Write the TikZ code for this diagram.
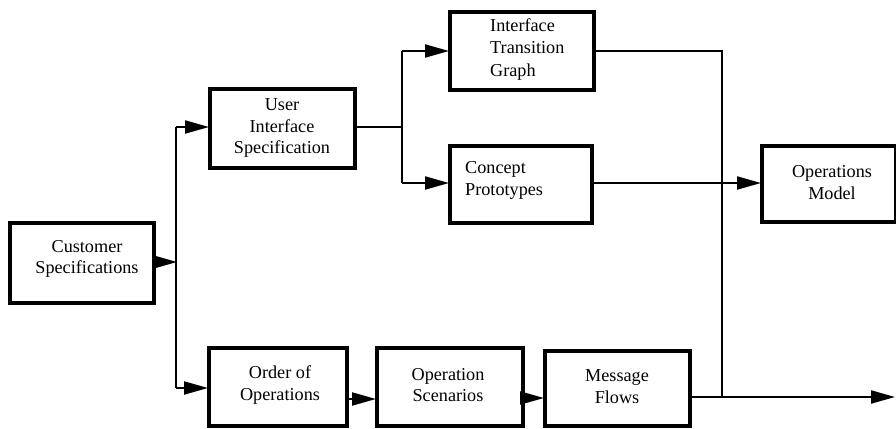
\documentclass[tikz,border=0pt]{standalone}
\usepackage{fontspec}
\newfontfamily\boxfont{Liberation Serif}
\usetikzlibrary{arrows.meta}
\begin{document}
\begin{tikzpicture}[x=1pt,y=-1pt,
  box/.style={draw, line width=4pt, rectangle, inner sep=0pt},
  lbl/.style={font=\boxfont\fontsize{18.2}{21.5}\selectfont, align=center, inner sep=0pt},
  lbll/.style={font=\boxfont\fontsize{18.2}{22.5}\selectfont, align=left, inner sep=0pt, anchor=west},
  wire/.style={line width=2pt},
  flow/.style={line width=2pt, -{Triangle[length=24pt,width=13pt]}, shorten >=-1pt}]
\useasboundingbox (0,0) rectangle (896,428);

% boxes
\node[box, minimum width=144pt, minimum height=80pt] (cust) at (82,263) {};
\node[lbl] (custT) at (87,259) {Customer\\Specifications};

\node[box, minimum width=145pt, minimum height=79pt] (uis) at (282.5,128.5) {};
\node[lbl] (uisT) at (282,128) {User\\Interface\\Specification};

\node[box, minimum width=144pt, minimum height=78pt] (itg) at (522,51) {};
\node[lbll] (itgT) at (490,49.5) {Interface\\Transition\\Graph};

\node[box, minimum width=142pt, minimum height=77pt] (cp) at (521,184.5) {};
\node[lbll] (cpT) at (465,180.5) {Concept\\Prototypes};

\node[box, minimum width=134pt, minimum height=76pt] (om) at (829,184) {};
\node[lbl] (omT) at (832,182.5) {Operations\\Model};

\node[box, minimum width=138pt, minimum height=78pt] (ooo) at (278,387) {};
\node[lbl] (oooT) at (280,385) {Order of\\Operations};

\node[box, minimum width=146pt, minimum height=78pt] (os) at (450,387) {};
\node[lbl] (osT) at (448,385) {Operation\\Scenarios};

\node[box, minimum width=145pt, minimum height=75pt] (mf) at (617.5,388.5) {};
\node[lbl] (mfT) at (617,386.5) {Message\\Flows};

% junction points
\coordinate (j1) at (176,262);
\coordinate (j1t) at (176,127);
\coordinate (j1b) at (176,388);
\coordinate (j2) at (402,127);
\coordinate (j2t) at (402,51);
\coordinate (j2b) at (402,183);
\coordinate (j3t) at (722,51);
\coordinate (j3b) at (722,397);
\coordinate (out) at (896,397);

% connectors
\draw[flow] (cust.east |- j1) -- (j1);
\draw[wire] (j1t) -- (j1b);
\draw[flow] (j1t) -- (uis.west |- j1t);
\draw[flow] (j1b) -- (ooo.west |- j1b);

\draw[wire] (uis.east |- j2) -- (j2);
\draw[wire] (j2t) -- (j2b);
\draw[flow] (j2t) -- (itg.west |- j2t);
\draw[flow] (j2b) -- (cp.west |- j2b);

\draw[wire] (itg.east |- j3t) -- (j3t) -- (j3b);
\draw[flow] (cp.east |- j2b) -- (om.west |- j2b);

\draw[flow] (ooo.east |- 0,399) -- (os.west |- 0,399);
\draw[flow] (os.east |- 0,398) -- (mf.west |- 0,398);
\draw[flow, shorten >=1pt] (mf.east |- j3b) -- (out);
\end{tikzpicture}
\end{document}
